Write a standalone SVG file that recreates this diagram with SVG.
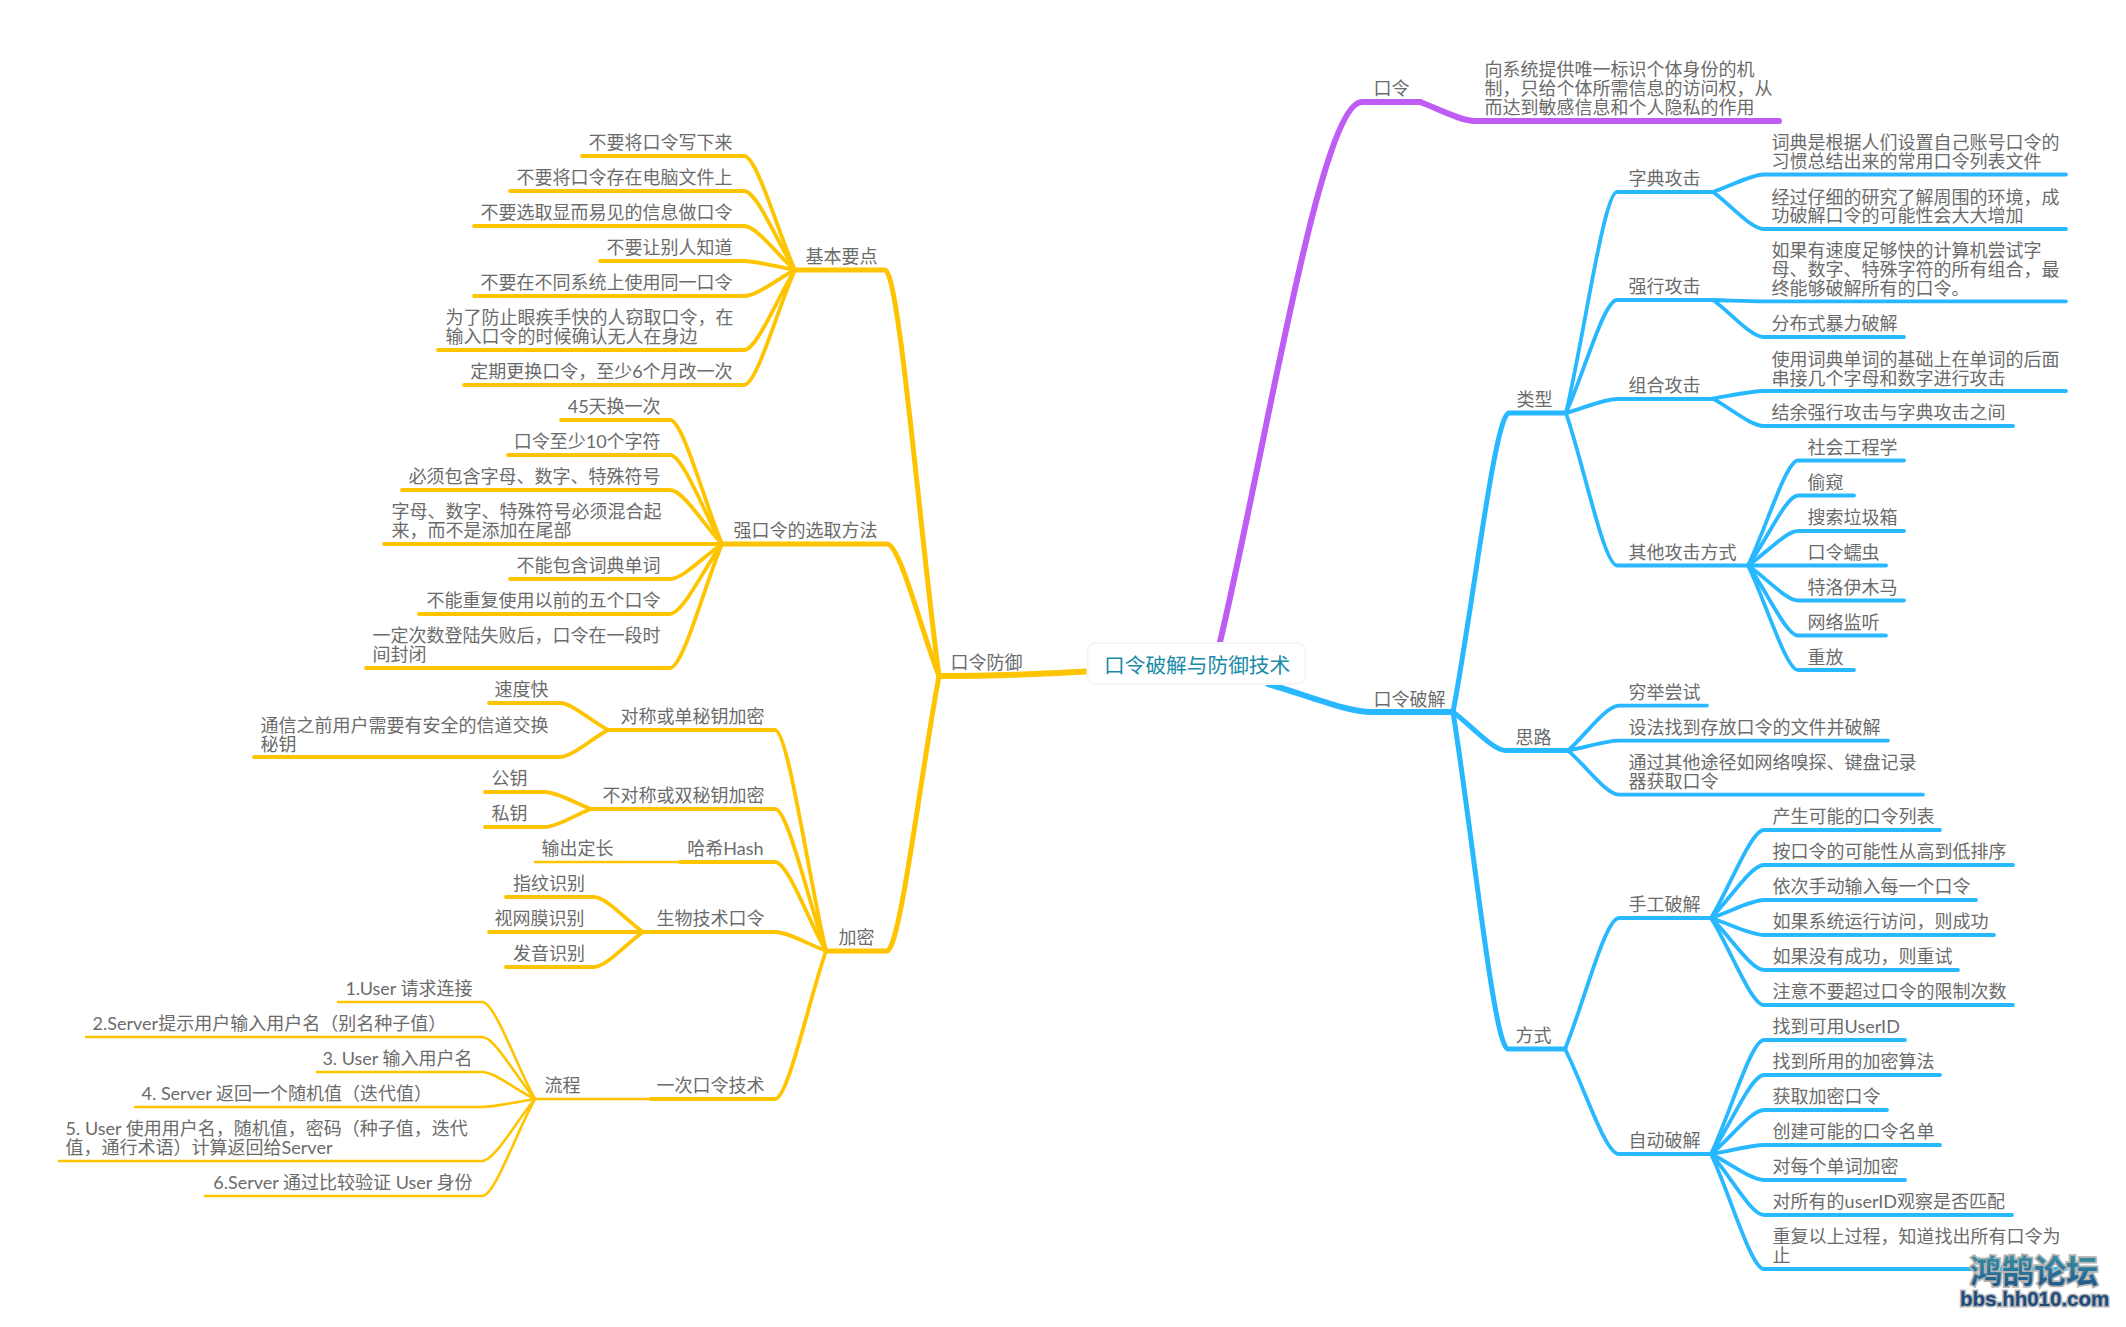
<svg xmlns="http://www.w3.org/2000/svg" width="2126" height="1327" viewBox="0 0 2126 1327">
<defs>
<linearGradient id="wm" x1="0" y1="0" x2="0" y2="1">
<stop offset="0" stop-color="#4a9aa6"/>
<stop offset="0.5" stop-color="#2a7a9c"/>
<stop offset="1" stop-color="#1b4a80"/>
</linearGradient>
</defs>
<style>
text{font-family:"Lato","Noto Sans CJK SC",sans-serif;font-size:18px;fill:#6b6b6b}
.e{text-anchor:end}
.root{font-size:20.7px;fill:#178ba8}
#connectors path{fill:none;stroke-linecap:round;stroke-linejoin:round}
.p{stroke:#bf5cf5}.b{stroke:#27b8ff}.y{stroke:#ffc400}
.w1{stroke-width:6}.w2{stroke-width:5}.w3{stroke-width:3.800}.w4{stroke-width:2.600}
#wm1{font-family:"Noto Sans CJK SC",sans-serif;font-size:32px;font-weight:700;fill:url(#wm);stroke:#b4b4b4;stroke-width:3.500;paint-order:stroke}
#wm2{font-family:"Liberation Sans",sans-serif;font-size:20.500px;font-weight:700;fill:#1b4a7c;stroke:#b4b4b4;stroke-width:3;paint-order:stroke}
</style>
<rect width="2126" height="1327" fill="#fff"/>
<g id="connectors">
<!-- purple branch -->
<path class="p w1" d="M1220 642c45-189 100-540 142-540H1420"/>
<path class="p w1" d="M1420 102c19 7 41 19 55 19H1779"/>
<!-- blue branch -->
<path class="b w1" d="M1268 684c36 10 78 28 104 28H1453"/>
<path class="b w2" d="M1453 712c20-105 42-299 56-299H1566"/>
<path class="b w2" d="M1453 712c19 14 40 38.600 53 38.600H1568"/>
<path class="b w2" d="M1453 712c19 118 41 337 55 337H1565"/>
<path class="b w3" d="M1566 413c18-77 38-221 51-221H1713"/>
<path class="b w3" d="M1566 413c18-40 38-113 51-113H1713"/>
<path class="b w3" d="M1566 413c18-5 38-14 51-14H1713"/>
<path class="b w3" d="M1566 413c18 53 38 152.500 51 152.500H1748"/>
<path class="b w3" d="M1713 192c18-6 38-17.500 51-17.500H2066"/>
<path class="b w3" d="M1713 192c18 13 38 37 51 37H2066"/>
<path class="b w3" d="M1713 300c18 .5 38 1.400 51 1.400H2066"/>
<path class="b w3" d="M1713 300c18 13 38 37 51 37H1904"/>
<path class="b w3" d="M1713 398.600c18-3 38-7.600 51-7.600H2066"/>
<path class="b w3" d="M1713 398.600c18 10 38 27.400 51 27.400H2013"/>
<path class="b w3" d="M1748 565.500c18-37 38-105 50-105H1904"/>
<path class="b w3" d="M1748 565.500c18-24 38-70 50-70H1854"/>
<path class="b w3" d="M1748 565.500c18-12 38-34.500 50-34.500H1904"/>
<path class="b w3" d="M1748 565.500H1886"/>
<path class="b w3" d="M1748 565.500c18 12 38 35 50 35H1904"/>
<path class="b w3" d="M1748 565.500c18 24 38 70 50 70H1886"/>
<path class="b w3" d="M1748 565.500c18 37 38 104.500 50 104.500H1854"/>
<path class="b w3" d="M1568 750.600c18-16 38-45 51-45H1707"/>
<path class="b w3" d="M1568 750.600c18-3.500 38-10 51-10H1888"/>
<path class="b w3" d="M1568 750.600c18 15 38 44 51 44H1923"/>
<path class="b w3" d="M1565 1049c19-46 40-131 54-131H1711"/>
<path class="b w3" d="M1565 1049c19 37 40 105 54 105H1711"/>
<path class="b w3" d="M1711 918c19-31 40-88 53-88H1940"/>
<path class="b w3" d="M1711 918c19-19 40-53 53-53H2013"/>
<path class="b w3" d="M1711 918c19-6 40-18 53-18H1976"/>
<path class="b w3" d="M1711 918c19 6 40 17 53 17H1994"/>
<path class="b w3" d="M1711 918c19 18 40 52 53 52H1958"/>
<path class="b w3" d="M1711 918c19 30 40 87 53 87H2013"/>
<path class="b w3" d="M1711 1154c19-40 40-114 53-114H1905"/>
<path class="b w3" d="M1711 1154c19-28 40-79 53-79H1940"/>
<path class="b w3" d="M1711 1154c19-15 40-44 53-44H1887"/>
<path class="b w3" d="M1711 1154c19-3 40-9 53-9H1940"/>
<path class="b w3" d="M1711 1154c19 9 40 26 53 26H1905"/>
<path class="b w3" d="M1711 1154c19 21 40 61 53 61H2012"/>
<path class="b w3" d="M1711 1154c19 40 40 115 53 115H2066"/>
<!-- yellow branch -->
<path class="y w1" d="M1095 671c-50 3-90 5-156 5"/>
<path class="y w2" d="M939 676c-19-142-40-406-54-406H795"/>
<path class="y w2" d="M939 676c-18-46-39-132-52-132H722"/>
<path class="y w2" d="M939 676c-18 96-39 275-52 275H826"/>
<path class="y w3" d="M795 270c-18-40-38-114-51-114H582"/>
<path class="y w3" d="M795 270c-18-28-38-79-51-79H510"/>
<path class="y w3" d="M795 270c-18-15-38-44-51-44H474"/>
<path class="y w3" d="M795 270c-18-3-38-9-51-9H600"/>
<path class="y w3" d="M795 270c-18 9-38 26-51 26H474"/>
<path class="y w3" d="M795 270c-18 28-38 80-51 80H438"/>
<path class="y w3" d="M795 270c-18 40-38 115-51 115H464"/>
<path class="y w3" d="M722 544c-18-43-39-124-52-124H561"/>
<path class="y w3" d="M722 544c-18-31-39-89-52-89H508"/>
<path class="y w3" d="M722 544c-18-19-39-54-52-54H402"/>
<path class="y w3" d="M722 544H384"/>
<path class="y w3" d="M722 544c-18 12-39 35-52 35H510"/>
<path class="y w3" d="M722 544c-18 24-39 70-52 70H419"/>
<path class="y w3" d="M722 544c-18 43-39 124-52 124H366"/>
<path class="y w3" d="M826 951c-18-77-38-221-51-221H608"/>
<path class="y w3" d="M826 951c-18-50-38-142-51-142H591"/>
<path class="y w3" d="M826 951c-18-31-38-89-51-89H680"/>
<path class="y w3" d="M826 951c-18-7-38-19-51-19H643"/>
<path class="y w3" d="M826 951c-18 52-38 148-51 148H651"/>
<path class="y w3" d="M608 730c-17-9-36-27-48-27H489"/>
<path class="y w3" d="M608 730c-17 9-36 27-48 27H254"/>
<path class="y w3" d="M591 809c-16-6-34-17-46-17H485"/>
<path class="y w3" d="M591 809c-16 6-34 18-46 18H485"/>
<path class="y w4" d="M680 862H535"/>
<path class="y w3" d="M643 932c-17-12-37-35-49-35H506"/>
<path class="y w3" d="M643 932H489"/>
<path class="y w3" d="M643 932c-17 12-37 35-49 35H506"/>
<path class="y w4" d="M651 1099H535"/>
<path class="y w4" d="M535 1099c-19-34-40-97-53-97H338"/>
<path class="y w4" d="M535 1099c-19-22-40-62-53-62H86"/>
<path class="y w4" d="M535 1099c-19-9-40-27-53-27H317"/>
<path class="y w4" d="M535 1099c-19 3-40 8-53 8H135"/>
<path class="y w4" d="M535 1099c-19 22-40 62-53 62H59"/>
<path class="y w4" d="M535 1099c-19 34-40 97-53 97H205"/>
</g>
<g id="root"><rect x="1087.500" y="643" width="218" height="41" rx="8" fill="#fff" stroke="#f3f5f7" stroke-width="2"/><text class="root" x="1104" y="673">口令破解与防御技术</text></g>
<g id="nodes" transform="translate(-.4 1)">
<g id="kouling"><text x="1374" y="94">口令</text></g>
<g id="kouling-desc"><text x="1485" y="75">向系统提供唯一标识个体身份的机<tspan x="1485" y="94">制，只给个体所需信息的访问权，从</tspan><tspan x="1485" y="113">而达到敏感信息和个人隐私的作用</tspan></text></g>
<g id="pojie"><text x="1374" y="705">口令破解</text></g>
<g id="leixing"><text x="1517" y="405">类型</text></g>
<g id="silu"><text x="1516" y="743">思路</text></g>
<g id="fangshi"><text x="1516" y="1041">方式</text></g>
<g id="zidian"><text x="1629" y="184">字典攻击</text></g>
<g id="qiangxing"><text x="1629" y="292">强行攻击</text></g>
<g id="zuhe"><text x="1629" y="391">组合攻击</text></g>
<g id="qita"><text x="1629" y="557.500">其他攻击方式</text></g>
<g id="zidian-1"><text x="1772" y="148">词典是根据人们设置自己账号口令的<tspan x="1772" y="167">习惯总结出来的常用口令列表文件</tspan></text></g>
<g id="zidian-2"><text x="1772" y="202.500">经过仔细的研究了解周围的环境，成<tspan x="1772" y="221">功破解口令的可能性会大大增加</tspan></text></g>
<g id="qiangxing-1"><text x="1772" y="256">如果有速度足够快的计算机尝试字<tspan x="1772" y="275">母、数字、特殊字符的所有组合，最</tspan><tspan x="1772" y="294">终能够破解所有的口令。</tspan></text></g>
<g id="qiangxing-2"><text x="1772" y="329">分布式暴力破解</text></g>
<g id="zuhe-1"><text x="1772" y="365">使用词典单词的基础上在单词的后面<tspan x="1772" y="383.500">串接几个字母和数字进行攻击</tspan></text></g>
<g id="zuhe-2"><text x="1772" y="418">结余强行攻击与字典攻击之间</text></g>
<g id="qita-1"><text x="1808" y="453">社会工程学</text></g>
<g id="qita-2"><text x="1808" y="488">偷窥</text></g>
<g id="qita-3"><text x="1808" y="523">搜索垃圾箱</text></g>
<g id="qita-4"><text x="1808" y="558">口令蠕虫</text></g>
<g id="qita-5"><text x="1808" y="593">特洛伊木马</text></g>
<g id="qita-6"><text x="1808" y="628">网络监听</text></g>
<g id="qita-7"><text x="1808" y="663">重放</text></g>
<g id="silu-1"><text x="1629" y="698">穷举尝试</text></g>
<g id="silu-2"><text x="1629" y="733">设法找到存放口令的文件并破解</text></g>
<g id="silu-3"><text x="1629" y="768">通过其他途径如网络嗅探、键盘记录<tspan x="1629" y="787">器获取口令</tspan></text></g>
<g id="shougong"><text x="1629" y="910">手工破解</text></g>
<g id="zidong"><text x="1629" y="1146">自动破解</text></g>
<g id="shougong-1"><text x="1773" y="822">产生可能的口令列表</text></g>
<g id="shougong-2"><text x="1773" y="857">按口令的可能性从高到低排序</text></g>
<g id="shougong-3"><text x="1773" y="892">依次手动输入每一个口令</text></g>
<g id="shougong-4"><text x="1773" y="927">如果系统运行访问，则成功</text></g>
<g id="shougong-5"><text x="1773" y="962">如果没有成功，则重试</text></g>
<g id="shougong-6"><text x="1773" y="997">注意不要超过口令的限制次数</text></g>
<g id="zidong-1"><text x="1773" y="1032">找到可用UserID</text></g>
<g id="zidong-2"><text x="1773" y="1067">找到所用的加密算法</text></g>
<g id="zidong-3"><text x="1773" y="1102">获取加密口令</text></g>
<g id="zidong-4"><text x="1773" y="1137">创建可能的口令名单</text></g>
<g id="zidong-5"><text x="1773" y="1172">对每个单词加密</text></g>
<g id="zidong-6"><text x="1773" y="1207">对所有的userID观察是否匹配</text></g>
<g id="zidong-7"><text x="1773" y="1242">重复以上过程，知道找出所有口令为<tspan x="1773" y="1261">止</tspan></text></g>
<g id="fangyu"><text x="951" y="668">口令防御</text></g>
<g id="jiben"><text class="e" x="878" y="262">基本要点</text></g>
<g id="jiben-1"><text class="e" x="733" y="148">不要将口令写下来</text></g>
<g id="jiben-2"><text class="e" x="733" y="183">不要将口令存在电脑文件上</text></g>
<g id="jiben-3"><text class="e" x="733" y="218">不要选取显而易见的信息做口令</text></g>
<g id="jiben-4"><text class="e" x="733" y="253">不要让别人知道</text></g>
<g id="jiben-5"><text class="e" x="733" y="288">不要在不同系统上使用同一口令</text></g>
<g id="jiben-6"><text x="446" y="323">为了防止眼疾手快的人窃取口令，在<tspan x="446" y="342">输入口令的时候确认无人在身边</tspan></text></g>
<g id="jiben-7"><text class="e" x="733" y="377">定期更换口令，至少6个月改一次</text></g>
<g id="qiang"><text class="e" x="878" y="536">强口令的选取方法</text></g>
<g id="qiang-1"><text class="e" x="661" y="412">45天换一次</text></g>
<g id="qiang-2"><text class="e" x="661" y="447">口令至少10个字符</text></g>
<g id="qiang-3"><text class="e" x="661" y="482">必须包含字母、数字、特殊符号</text></g>
<g id="qiang-4"><text x="392" y="517">字母、数字、特殊符号必须混合起<tspan x="392" y="536">来，而不是添加在尾部</tspan></text></g>
<g id="qiang-5"><text class="e" x="661" y="571">不能包含词典单词</text></g>
<g id="qiang-6"><text class="e" x="661" y="606">不能重复使用以前的五个口令</text></g>
<g id="qiang-7"><text x="373" y="641">一定次数登陆失败后，口令在一段时<tspan x="373" y="660">间封闭</tspan></text></g>
<g id="jiami"><text x="839" y="943">加密</text></g>
<g id="duichen"><text class="e" x="765" y="722">对称或单秘钥加密</text></g>
<g id="feiduichen"><text class="e" x="765" y="801">不对称或双秘钥加密</text></g>
<g id="hash"><text class="e" x="764" y="853.500">哈希Hash</text></g>
<g id="shengwu"><text class="e" x="765" y="924">生物技术口令</text></g>
<g id="yici"><text class="e" x="765" y="1091">一次口令技术</text></g>
<g id="duichen-1"><text class="e" x="549" y="695">速度快</text></g>
<g id="duichen-2"><text x="261" y="731">通信之前用户需要有安全的信道交换<tspan x="261" y="750">秘钥</tspan></text></g>
<g id="gongyao"><text x="492" y="784">公钥</text></g>
<g id="siyao"><text x="492" y="819">私钥</text></g>
<g id="hash-1"><text x="542" y="853.500">输出定长</text></g>
<g id="shengwu-1"><text x="513.500" y="889">指纹识别</text></g>
<g id="shengwu-2"><text class="e" x="585" y="924">视网膜识别</text></g>
<g id="shengwu-3"><text x="513.500" y="959">发音识别</text></g>
<g id="liucheng"><text x="545" y="1091">流程</text></g>
<g id="liucheng-1"><text class="e" x="473" y="994">1.User 请求连接</text></g>
<g id="liucheng-2"><text x="93" y="1029">2.Server提示用户输入用户名（别名种子值）</text></g>
<g id="liucheng-3"><text class="e" x="473" y="1063.500">3. User 输入用户名</text></g>
<g id="liucheng-4"><text x="142" y="1098.500">4. Server 返回一个随机值（迭代值）</text></g>
<g id="liucheng-5"><text x="66" y="1134">5. User 使用用户名，随机值，密码（种子值，迭代<tspan x="66" y="1153">值，通行术语）计算返回给Server</tspan></text></g>
<g id="liucheng-6"><text class="e" x="473" y="1188">6.Server 通过比较验证 User 身份</text></g>
</g>
<g id="badge"><text id="wm1" x="1970" y="1283">鸿鹄论坛</text><text id="wm2" x="1960" y="1306">bbs.hh010.com</text></g>
</svg>
